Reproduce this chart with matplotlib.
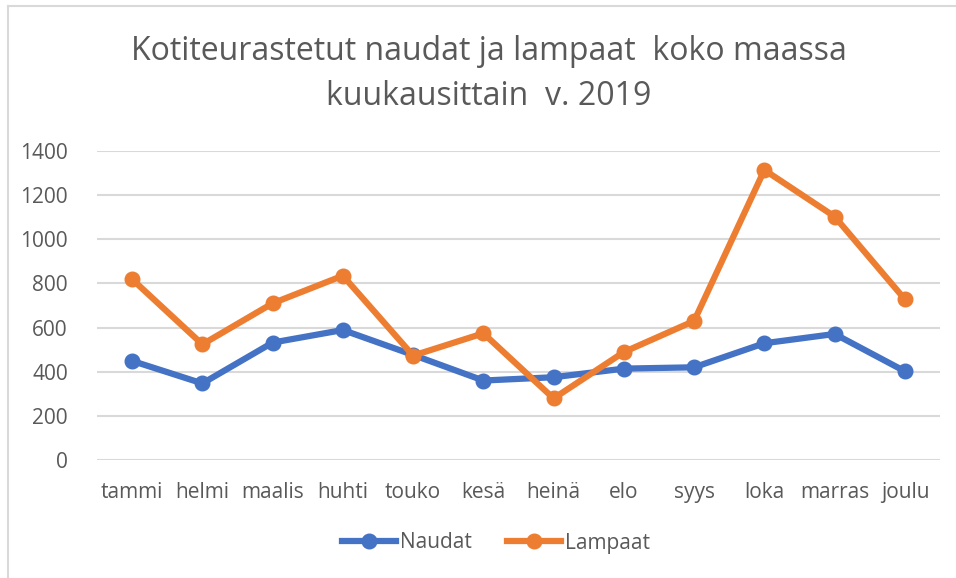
import matplotlib
matplotlib.use("Agg")
import matplotlib.pyplot as plt
from matplotlib.lines import Line2D

months = ["tammi", "helmi", "maalis", "huhti", "touko", "kesä", "heinä",
          "elo", "syys", "loka", "marras", "joulu"]
naudat = [449, 347, 532, 589, 476, 360, 375, 414, 420, 529, 571, 402]
lampaat = [819, 524, 710, 835, 473, 574, 279, 489, 630, 1314, 1103, 728]
yticks = [0, 200, 400, 600, 800, 1000, 1200, 1400]

title = "Kotiteurastetut naudat ja lampaat  koko maassa\nkuukausittain  v. 2019"

plt.rcParams['font.family'] = ['Open Sans', 'DejaVu Sans']
txt = "#595959"
blue = "#4472C4"
orange = "#ED7D31"

fig = plt.figure(figsize=(9.56, 5.78), dpi=100)
ax = fig.add_axes([97/956, 1-460/578, (940-97)/956, (460-151)/578])

x = list(range(len(months)))
ax.plot(x, naudat, color=blue, lw=4.5, marker='o', ms=10.5, label="Naudat",
        solid_capstyle='round', zorder=3)
ax.plot(x, lampaat, color=orange, lw=4.5, marker='o', ms=10.5, label="Lampaat",
        solid_capstyle='round', zorder=4)

ax.set_xlim(-0.5, 11.5)
ax.set_ylim(0, 1400)
ax.set_yticks(yticks)
ax.set_xticks(x)
ax.set_xticklabels(months)
ax.grid(axis='y', color="#D9D9D9", lw=1.5)
ax.set_axisbelow(True)
for s in ax.spines.values():
    s.set_visible(False)
ax.tick_params(length=0, labelsize=15, colors=txt, pad=16)
ax.tick_params(axis='y', pad=21)

fig.text(489/956, 1-74/578, title, ha='center', va='center', fontsize=23,
         color=txt, linespacing=1.45)

handles = [Line2D([], [], color=blue, lw=4.5, marker='o', ms=10.5),
           Line2D([], [], color=orange, lw=4.5, marker='o', ms=10.5)]
fig.legend(handles, ["Naudat", "Lampaat"], loc='center', bbox_to_anchor=(496/956, 1-543/578),
           ncol=2, frameon=False, fontsize=15, labelcolor=txt, handlelength=2.6,
           handletextpad=0.2, columnspacing=1.7)

# chart border (top and left visible)
fig.add_artist(Line2D([8/956, 8/956], [0, 1-6/578], transform=fig.transFigure, color="#D9D9D9", lw=1.5))
fig.add_artist(Line2D([8/956, 1], [1-6/578, 1-6/578], transform=fig.transFigure, color="#D9D9D9", lw=1.5))

fig.savefig("out.png", dpi=100)
